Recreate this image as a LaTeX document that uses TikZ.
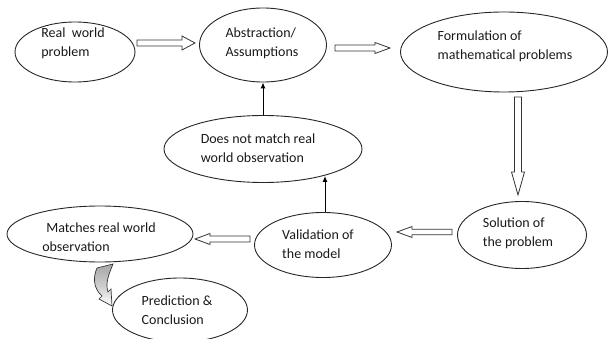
\documentclass[tikz,border=0pt]{standalone}
\usepackage{fontspec}
\setmainfont{Carlito}
\usetikzlibrary{shapes.geometric,calc,arrows.meta}
\tikzset{
  oval/.style={ellipse, draw=black!85, line width=0.9pt, inner sep=0pt},
  txt/.style={align=left, inner sep=0pt, font=\fontsize{14}{19}\selectfont, text=black!90},
  hollow/.style={draw=black!80, line width=0.8pt, fill=white, line join=miter},
  blk/.style={draw=black, line width=1pt, -{Latex[length=6pt,width=5pt]}}
}
% #1 from, #2 to, #3 head length, #4 shaft half width, #5 head half width
\newcommand\hollowarrow[5]{%
  \coordinate (hb) at ($(#2)!#3pt!(#1)$);
  \draw[hollow] ($(#1)!#4pt!90:(#2)$) -- ($(hb)!#4pt!90:(#2)$) -- ($(hb)!#5pt!90:(#2)$)
    -- (#2) -- ($(hb)!#5pt!-90:(#2)$) -- ($(hb)!#4pt!-90:(#2)$) -- ($(#1)!#4pt!-90:(#2)$) -- cycle;
}
\begin{document}
\begin{tikzpicture}[x=1pt,y=-1pt]
\useasboundingbox (0,0) rectangle (610,339);
% ellipses
\node[oval, minimum width=120pt, minimum height=60pt] (rw) at (75,52) {};
\node[oval, minimum width=127pt, minimum height=74pt] (abs) at (263,45) {};
\node[oval, minimum width=207pt, minimum height=80pt] (form) at (504,52) {};
\node[oval, minimum width=198pt, minimum height=67pt] (dnm) at (263,149) {};
\node[oval, minimum width=129pt, minimum height=67pt] (sol) at (522,235) {};
\node[oval, minimum width=137pt, minimum height=65pt] (val) at (323,245) {};
\node[oval, minimum width=186pt, minimum height=56pt] (mat) at (100,234) {};
\node[oval, minimum width=135pt, minimum height=64pt] (pred) at (180,310) {};
% texts
\node[txt] (rwt) at (73,43) {Real\ \ world\\problem};
\node[txt] (abst) at (262,43) {Abstraction/\\Assumptions};
\node[txt] (formt) at (505,46) {Formulation of\\mathematical problems};
\node[txt] (dnmt) at (258,148) {Does not match real\\world observation};
\node[txt] (solt) at (518,233) {Solution of\\the problem};
\node[txt] (valt) at (318,244) {Validation of\\the model};
\node[txt] (matt) at (99,237) {\hspace*{4pt}Matches real world\\observation};
\node[txt] (predt) at (177,310) {Prediction \&\\Conclusion};
% hollow arrow end points
\coordinate (a1s) at (137,43); \coordinate (a1e) at (195,43);
\coordinate (a2s) at (335,48); \coordinate (a2e) at (390,48);
\coordinate (a3s) at (518,97); \coordinate (a3e) at (518,195);
\coordinate (a4s) at (452,232); \coordinate (a4e) at (397,232);
\coordinate (a5s) at (250,239); \coordinate (a5e) at (195,239);
\hollowarrow{a1s}{a1e}{13}{3}{7}
\hollowarrow{a2s}{a2e}{15}{3}{5.5}
\hollowarrow{a3s}{a3e}{23}{3.5}{6.5}
\hollowarrow{a4s}{a4e}{15}{2.8}{5.5}
\hollowarrow{a5s}{a5e}{15}{3}{5.5}
% black arrows
\coordinate (vtip) at (325,176);
\coordinate (vbase) at (325,212);
\draw[blk] (vbase) -- (vtip);
\draw[blk] (dnm.north) -- (abs.south);
% curved gray arrow
\shade[top color=black!35, bottom color=white, middle color=black!20, draw=black!80, line width=0.7pt]
  (97,268) -- (113,264) .. controls (109,274) and (105,283) .. (108,292)
  -- (111,289) -- (112,306) -- (99,299) -- (102,296)
  .. controls (93,288) and (93,277) .. (97,268) -- cycle;
\end{tikzpicture}
\end{document}
